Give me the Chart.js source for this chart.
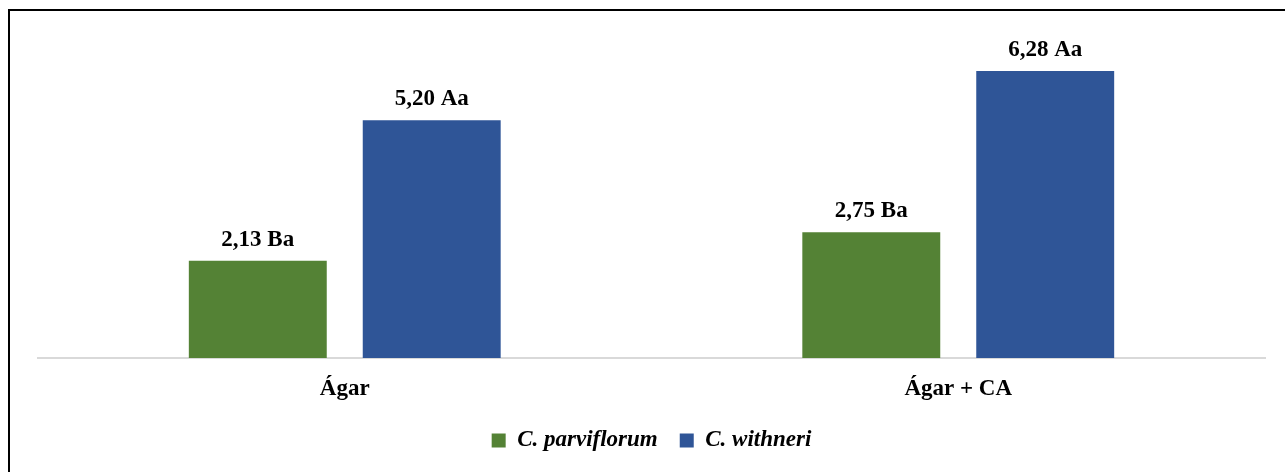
<!DOCTYPE html>
<html>
<head>
<meta charset="utf-8">
<script src="https://cdn.jsdelivr.net/npm/chart.js@4"></script>
<style>
  html, body { margin: 0; padding: 0; background: #fff; }
  #wrap { position: relative; width: 1285px; height: 472px; }
  #frame { position: absolute; left: 8px; top: 9px; right: 0; bottom: 0;
           border-top: 2px solid #000; border-left: 2px solid #000; pointer-events: none; }
</style>
</head>
<body>
<div id="wrap">
  <canvas id="chart" width="1285" height="472"></canvas>
  <div id="frame"></div>
</div>
<script>
const categories = ["Ágar", "Ágar + CA"];
const parviflorum = [2.13, 2.75];
const withneri = [5.20, 6.28];
const lettersParv = ["Ba", "Ba"];
const lettersWith = ["Aa", "Aa"];

const serif = "'Liberation Serif', 'Times New Roman', serif";

// labels above each bar, e.g. "2,13 Ba"
const barLabels = {
    id: 'barLabels',
    afterDatasetsDraw(chart) {
        const ctx = chart.ctx;
        ctx.save();
        ctx.fillStyle = '#000';
        ctx.font = 'bold 23px ' + serif;
        ctx.textAlign = 'center';
        ctx.textBaseline = 'alphabetic';
        chart.data.datasets.forEach((ds, di) => {
            chart.getDatasetMeta(di).data.forEach((bar, i) => {
                const txt = ds.data[i].toFixed(2).replace('.', ',') + ' ' + ds.letters[i];
                ctx.fillText(txt, bar.x, bar.y - 15);
            });
        });
        ctx.restore();
    }
};

const ctx = document.getElementById("chart").getContext("2d");
new Chart(ctx, {
    type: 'bar',
    data: {
        labels: categories,
        datasets: [
            {
                label: 'C. parviflorum',
                data: parviflorum,
                letters: lettersParv,
                backgroundColor: '#548235'
            },
            {
                label: 'C. withneri',
                data: withneri,
                letters: lettersWith,
                backgroundColor: '#2F5597'
            }
        ]
    },
    options: {
        responsive: false,
        animation: false,
        categoryPercentage: 0.567,
        barPercentage: 0.793,
        layout: { padding: { left: 38, right: 20, top: 38, bottom: 10 } },
        plugins: {
            tooltip: { enabled: false },
            legend: {
                position: 'bottom',
                labels: {
                    boxWidth: 14,
                    boxHeight: 14,
                    padding: 22,
                    color: '#000',
                    font: { family: serif, size: 23, weight: 'bold', style: 'italic' }
                }
            }
        },
        scales: {
            x: {
                afterFit(scale) { scale.height = 49; },
                grid: { display: false, drawTicks: false },
                border: { color: '#d9d9d9', width: 2 },
                ticks: {
                    color: '#000',
                    padding: 17,
                    font: { family: serif, size: 23, weight: 'bold' }
                }
            },
            y: {
                display: false,
                min: 0,
                max: 7
            }
        }
    },
    plugins: [barLabels]
});
</script>
</body>
</html>
